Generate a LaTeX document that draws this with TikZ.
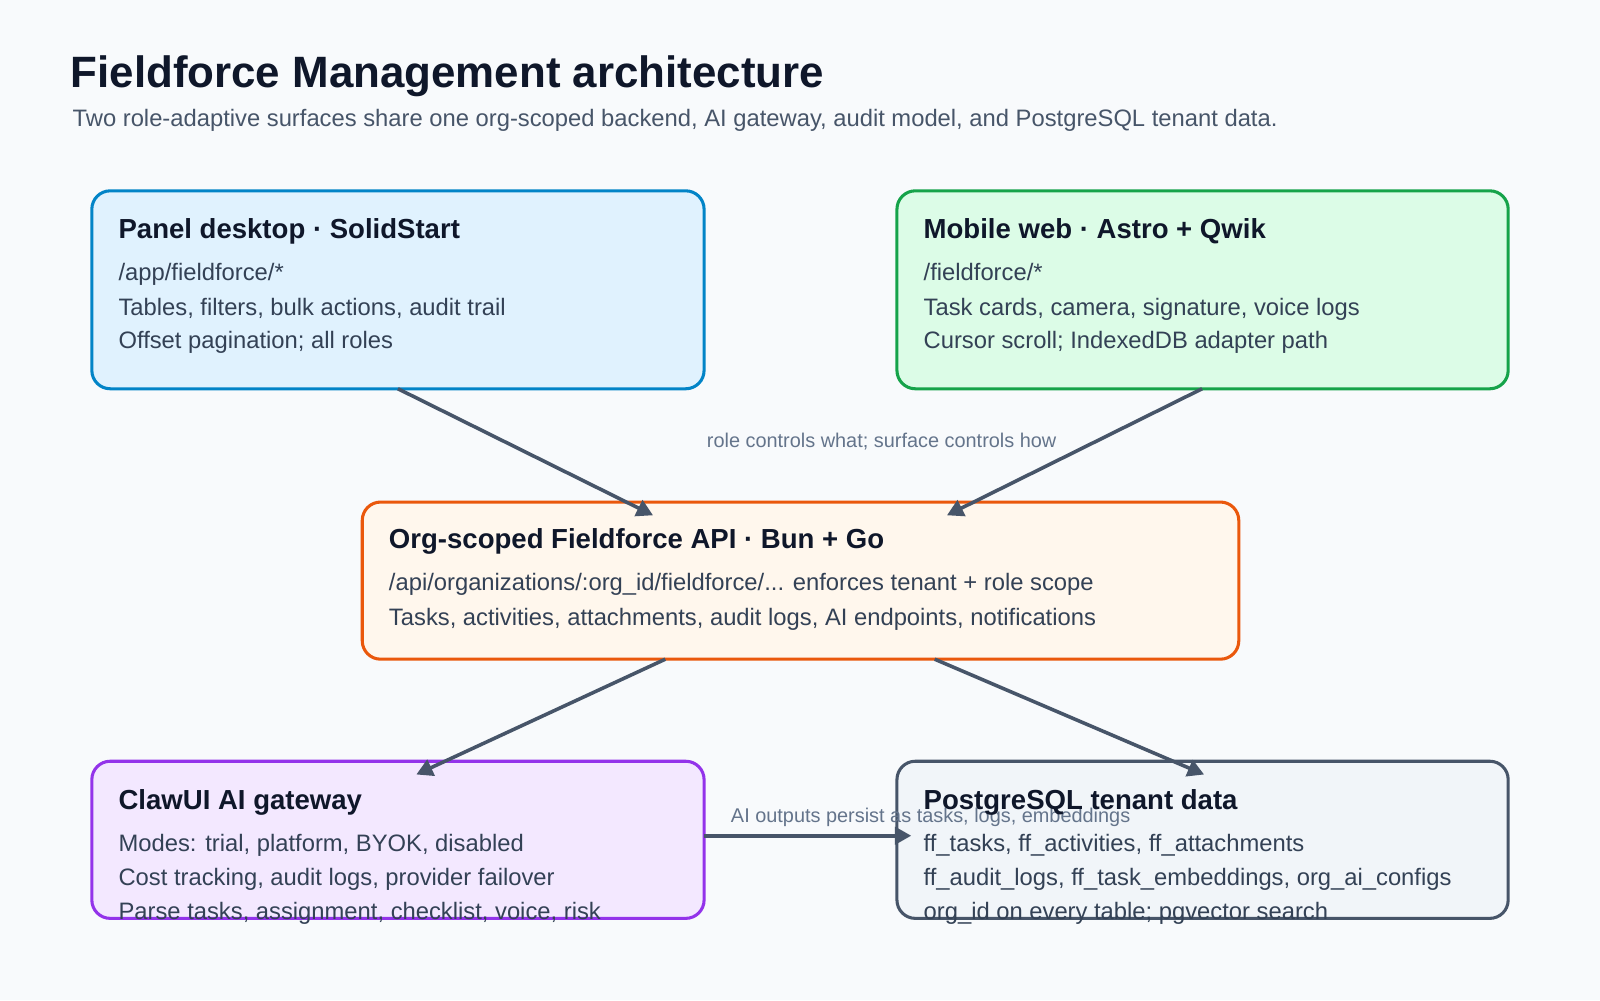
\documentclass[tikz,border=0pt]{standalone}
\usepackage{fontspec}
\setmainfont{Liberation Sans}
\usetikzlibrary{arrows.meta}
\definecolor{bg}{HTML}{F8FAFC}
\definecolor{ink}{HTML}{0F172A}
\definecolor{txt}{HTML}{334155}
\definecolor{sub}{HTML}{475569}
\definecolor{lab}{HTML}{64748B}
\definecolor{bS}{HTML}{0284C7}\definecolor{bF}{HTML}{E0F2FE}
\definecolor{gS}{HTML}{16A34A}\definecolor{gF}{HTML}{DCFCE7}
\definecolor{oS}{HTML}{EA580C}\definecolor{oF}{HTML}{FFF7ED}
\definecolor{pS}{HTML}{9333EA}\definecolor{pF}{HTML}{F3E8FF}
\definecolor{sS}{HTML}{475569}\definecolor{sF}{HTML}{F1F5F9}
\begin{document}
\begin{tikzpicture}[x=1pt,y=-1pt,
 box/.style={draw,line width=3pt,rounded corners=18pt},
 ttl/.style={anchor=base west,font=\fontsize{27}{30}\selectfont\bfseries,text=ink,inner sep=0},
 ln/.style={anchor=base west,font=\fontsize{23.3}{26}\selectfont,text=txt,inner sep=0},
 arr/.style={draw=sub,line width=3.5pt,-{Triangle[length=16pt,width=17pt]}},
 lbl/.style={font=\fontsize{19.5}{22}\selectfont,text=lab,inner sep=0}]
\fill[bg] (0,0) rectangle (1568,980);
\useasboundingbox (0,0) rectangle (1568,980);
\node[anchor=base west,inner sep=0,font=\fontsize{43}{47}\selectfont\bfseries,text=ink] (title) at (69,86) {Fieldforce Management architecture};
\node[anchor=base west,inner sep=0,font=\fontsize{23.3}{26}\selectfont,text=sub] (subt) at (71,124) {Two role-adaptive surfaces share one org-scoped backend, AI gateway, audit model, and PostgreSQL tenant data.};
% boxes
\path[box,draw=bS,fill=bF] (90,187) rectangle (690,381);
\path[box,draw=gS,fill=gF] (879,187) rectangle (1478,381);
\path[box,draw=oS,fill=oF] (355,492) rectangle (1214,646);
\path[box,draw=pS,fill=pF] (90,746) rectangle (690,900);
\path[box,draw=sS,fill=sF] (879,746) rectangle (1478,900);
\coordinate (p1) at (390,381); \coordinate (a1) at (640,505);
\coordinate (m1) at (1178,381); \coordinate (a2) at (928,505);
\coordinate (a3) at (652,646); \coordinate (c1) at (408,759);
\coordinate (a4) at (916,646); \coordinate (d1) at (1180,759);
\coordinate (c2) at (690,819); \coordinate (d2) at (893,819);
\draw[arr] (p1) -- (a1);
\draw[arr] (m1) -- (a2);
\draw[arr] (a3) -- (c1);
\draw[arr] (a4) -- (d1);
\draw[arr] (c2) -- (d2);
\node[lbl] (l1) at (864,433) {role controls what; surface controls how};
\node[lbl] (l2) at (912,801) {AI outputs persist as tasks, logs, embeddings};
% texts
\node[ttl] (t1) at (116,234) {Panel desktop · SolidStart};
\node[ln] at (116,275) {/app/fieldforce/*};
\node[ln] at (116,309) {Tables, filters, bulk actions, audit trail};
\node[ln] at (116,342) {Offset pagination; all roles};
\node[ttl] (t2) at (905,234) {Mobile web · Astro + Qwik};
\node[ln] at (905,275) {/fieldforce/*};
\node[ln] at (905,309) {Task cards, camera, signature, voice logs};
\node[ln] at (905,342) {Cursor scroll; IndexedDB adapter path};
\node[ttl] (t3) at (381,538) {Org-scoped Fieldforce API · Bun + Go};
\node[ln] at (381,579) {/api/organizations/:org\_id/fieldforce/... enforces tenant + role scope};
\node[ln] at (381,613) {Tasks, activities, attachments, audit logs, AI endpoints, notifications};
\node[ttl] (t4) at (116,793) {ClawUI AI gateway};
\node[ln] at (116,834) {Modes: trial, platform, BYOK, disabled};
\node[ln] at (116,868) {Cost tracking, audit logs, provider failover};
\node[ln] at (116,901) {Parse tasks, assignment, checklist, voice, risk};
\node[ttl] (t5) at (905,793) {PostgreSQL tenant data};
\node[ln] at (905,834) {ff\_tasks, ff\_activities, ff\_attachments};
\node[ln] at (905,868) {ff\_audit\_logs, ff\_task\_embeddings, org\_ai\_configs};
\node[ln] at (905,901) {org\_id on every table; pgvector search};
\end{tikzpicture}
\end{document}
